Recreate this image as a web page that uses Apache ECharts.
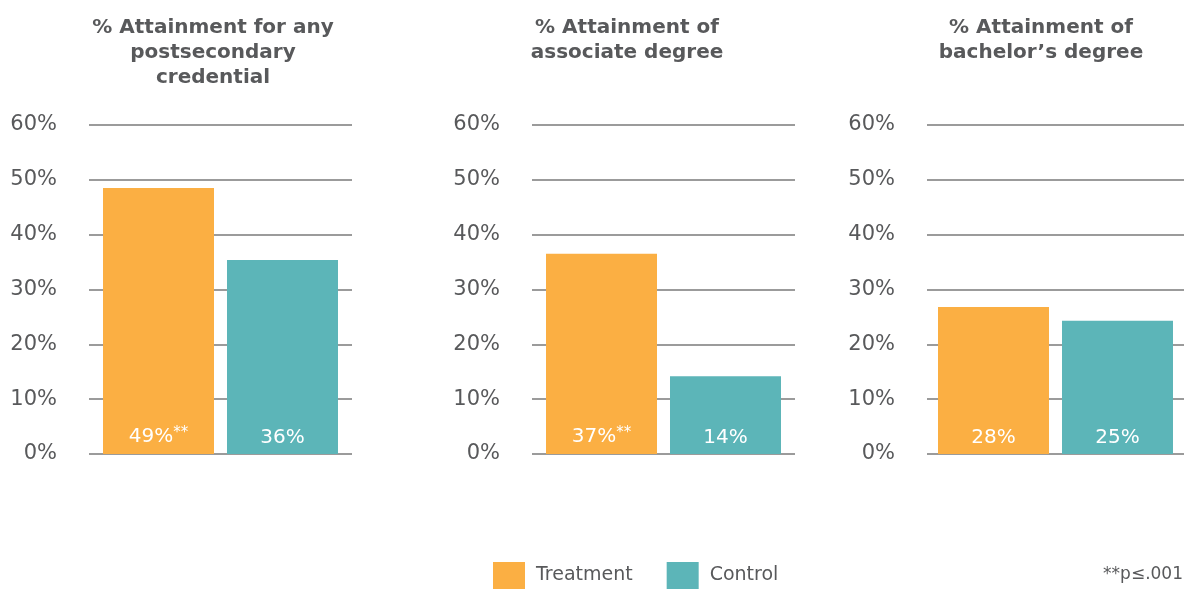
<!doctype html>
<html lang="en">
<head>
    <meta charset="UTF-8">
    <title>Attainment</title>
    <script src="https://cdn.jsdelivr.net/npm/echarts@6/dist/echarts.min.js"></script>
    <style>
        html, body { margin: 0; padding: 0; background: #fff; }
        #main { width: 1184px; height: 590px; }
    </style>
</head>
<body>
<div id="main"></div>
<script>
    // chart data
    var panelTitles = [
        '% Attainment for any\npostsecondary\ncredential',
        '% Attainment of\nassociate degree',
        '% Attainment of\nbachelor\u2019s degree'
    ];
    var seriesNames = ['Treatment', 'Control'];
    var treatmentValues = [48.5, 36.5, 26.8];
    var controlValues = [35.4, 14.2, 24.3];
    var treatmentLabels = ['49%', '37%', '28%'];
    var controlLabels = ['36%', '14%', '25%'];
    var treatmentSig = ['**', '**', ''];
    var controlSig = ['', '', ''];
    var yTicks = [0, 10, 20, 30, 40, 50, 60];
    var footnote = '**p\u2264.001';

    var font = '"DejaVu Sans", sans-serif';
    var grey = '#58595b';
    var colors = ['#fbaf43', '#5cb5b8'];

    // layout of the three panels
    var gridLefts = [89, 532, 927];
    var gridWidths = [263, 263, 257];
    var titleCenters = [213, 627, 1041];

    var myChart = echarts.init(document.getElementById('main'));

    var grids = [], xAxes = [], yAxes = [], titles = [], series = [];
    for (var i = 0; i < 3; i++) {
        grids.push({ left: gridLefts[i], width: gridWidths[i], top: 125, height: 329 });
        titles.push({
            text: panelTitles[i],
            left: titleCenters[i],
            top: 15,
            textAlign: 'center',
            padding: 0,
            textStyle: { fontFamily: font, fontSize: 20, fontWeight: 'bold', color: grey, lineHeight: 25 }
        });
        xAxes.push({
            type: 'category', gridIndex: i, data: [''],
            axisLine: { show: false }, axisTick: { show: false }, axisLabel: { show: false }
        });
        yAxes.push({
            type: 'value', gridIndex: i,
            min: yTicks[0], max: yTicks[yTicks.length - 1], interval: 10,
            axisLine: { show: false }, axisTick: { show: false },
            axisLabel: {
                formatter: '{value}%', margin: 32, fontFamily: font, fontSize: 21, color: grey,
                padding: [5, 0, 0, 0]
            },
            splitLine: { lineStyle: { color: '#7a7a7a', width: 1.5 } }
        });
        var vals = [treatmentValues[i], controlValues[i]];
        var labs = [treatmentLabels[i], controlLabels[i]];
        var sigs = [treatmentSig[i], controlSig[i]];
        for (var s = 0; s < 2; s++) {
            (function (lab, sig) {
                series.push({
                    name: seriesNames[s],
                    type: 'bar',
                    xAxisIndex: i,
                    yAxisIndex: i,
                    barWidth: 111,
                    barGap: '11.7%',
                    itemStyle: { color: colors[s] },
                    data: [vals[s]],
                    label: {
                        show: true,
                        position: 'insideBottom',
                        distance: 6,
                        formatter: function () {
                            return '{a|' + lab + '}' + (sig ? '{b|' + sig + '}' : '');
                        },
                        rich: {
                            a: { fontFamily: font, fontSize: 20, color: '#fff' },
                            b: { fontFamily: font, fontSize: 15, color: '#fff', padding: [0, 0, 7, 0] }
                        }
                    }
                });
            })(labs[s], sigs[s]);
        }
    }

    var option = {
        animation: false,
        color: colors,
        title: titles,
        grid: grids,
        xAxis: xAxes,
        yAxis: yAxes,
        legend: {
            data: seriesNames,
            left: 493,
            top: 562,
            padding: 0,
            icon: 'rect',
            itemWidth: 32,
            itemHeight: 27,
            itemGap: 34,
            textStyle: { fontFamily: font, fontSize: 19, color: grey, padding: [0, 0, 0, 6] }
        },
        graphic: [{
            type: 'text',
            right: 1,
            top: 566,
            style: { text: footnote, font: '17px "DejaVu Sans", sans-serif', fill: grey }
        }],
        series: series
    };
    myChart.setOption(option);
</script>
</body>
</html>
